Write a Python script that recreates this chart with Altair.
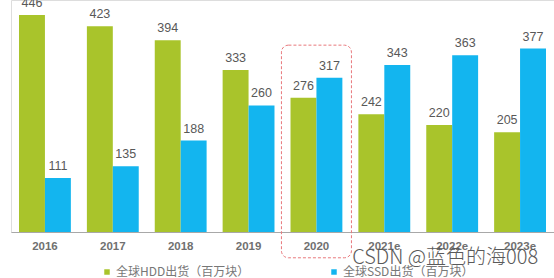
import altair as alt
import pandas as pd

years = ["2016", "2017", "2018", "2019", "2020", "2021e", "2022e", "2023e"]
hdd = [446, 423, 394, 333, 276, 242, 220, 205]
ssd = [111, 135, 188, 260, 317, 343, 363, 377]
series = ["全球HDD出货（百万块）", "全球SSD出货（百万块）"]
colors = ["#a9c42b", "#13b5ef"]

highlight_year = ["2020"]
highlight_top = [384]
highlight_bottom = [-53]

watermark = ["CSDN @蓝色的海008"]
watermark_year = ["2022e"]
watermark_y = [-53]

rows = []
for i, y in enumerate(years):
    rows.append({"year": y, "series": series[0], "value": hdd[i]})
    rows.append({"year": y, "series": series[1], "value": ssd[i]})
df = pd.DataFrame(rows)

hl = pd.DataFrame({"year": highlight_year, "top": highlight_top, "bottom": highlight_bottom})
wm = pd.DataFrame({"year": watermark_year, "text": watermark, "v": watermark_y})

FONT = "Liberation Sans"

x_enc = alt.X(
    "year:N",
    sort=years,
    scale=alt.Scale(paddingInner=0.236, paddingOuter=0.118),
    axis=alt.Axis(
        title=None,
        labelAngle=0,
        ticks=False,
        domainColor="#a8a8a8",
        domainWidth=1.2,
        labelFontSize=11.5,
        labelFont=FONT,
        labelFontWeight="bold",
        labelColor="#707070",
        labelPadding=8,
        labelOverlap=False,
    ),
)
y_scale = alt.Scale(domain=[0, 476.8], nice=False, zero=False)

bars = alt.Chart(df).mark_bar().encode(
    x=x_enc,
    xOffset=alt.XOffset("series:N", scale=alt.Scale(domain=series, paddingInner=0, paddingOuter=0)),
    y=alt.Y("value:Q", scale=y_scale, axis=None),
    color=alt.Color(
        "series:N",
        scale=alt.Scale(domain=series, range=colors),
        legend=alt.Legend(
            title=None,
            orient="none",
            direction="horizontal",
            legendX=90,
            legendY=266,
            padding=0,
            symbolType="square",
            symbolSize=30,
            symbolStrokeWidth=0,
            labelFont="Noto Sans CJK SC",
            labelFontSize=12,
            labelColor="#777777",
            labelOffset=3,
            labelLimit=300,
            columnPadding=78,
        ),
    ),
)

labels = alt.Chart(df).mark_text(
    baseline="middle", dy=-12, fontSize=12.5, font=FONT, color="#585858"
).encode(
    x=alt.X("year:N", sort=years),
    xOffset=alt.XOffset("series:N", scale=alt.Scale(domain=series)),
    y=alt.Y("value:Q", scale=y_scale),
    text="value:Q",
)

box = alt.Chart(hl).mark_bar(
    width=70,
    fillOpacity=0,
    fill="white",
    stroke="#e8787c",
    strokeWidth=1,
    strokeDash=[3, 2],
    cornerRadius=7,
).encode(
    x=alt.X("year:N", sort=years),
    y=alt.Y("top:Q", scale=y_scale),
    y2="bottom:Q",
)

mark_wm = alt.Chart(wm).mark_text(
    font="Noto Sans CJK SC", fontSize=20, fontWeight=300, color="#5a5a5a", dx=-7,
    baseline="middle",
).encode(
    x=alt.X("year:N", sort=years),
    y=alt.Y("v:Q", scale=y_scale),
    text="text:N",
)

chart = alt.layer(bars, labels, box, mark_wm).properties(
    width=543,
    height=232,
    autosize=alt.AutoSizeParams(type="none"),
    padding={"left": 11, "top": 0, "right": 0, "bottom": 46},
).configure_view(stroke=None).configure(background="white")

chart.save("out.html", embed_options={"renderer": "svg", "actions": False})
